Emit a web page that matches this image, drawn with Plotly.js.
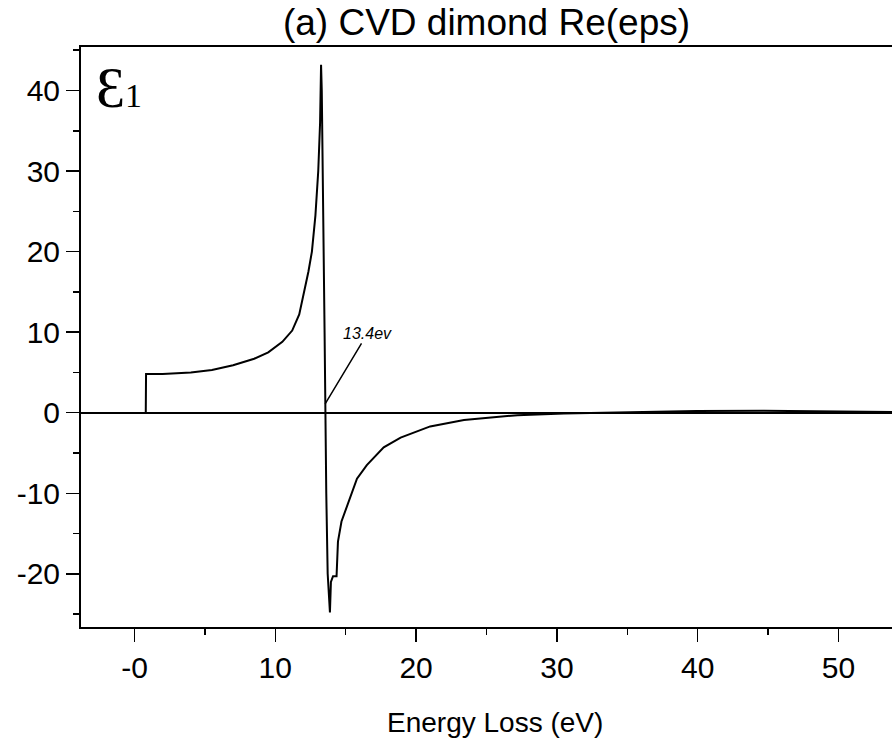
<!DOCTYPE html>
<html>
<head>
<meta charset="utf-8">
<script src="https://cdn.plot.ly/plotly-3.0.1.min.js"></script>
<style>html,body{margin:0;padding:0;background:#fff;}#chart{width:892px;height:748px;}</style>
</head>
<body>
<div id="chart"></div>
<script>
// Energy loss (eV) and Re(eps)
const energy = [0.8, 0.82, 2, 4, 5.5, 7, 8.5, 9.5, 10.5, 11.2, 11.7, 12.05, 12.35, 12.6, 12.85, 13.05, 13.18, 13.25, 13.3, 13.5, 13.55, 13.62, 13.72, 13.88, 13.95, 14.1, 14.35, 14.45, 14.7, 15.08, 15.8, 16.5, 17.7, 18.9, 21.0, 23.4, 27.2, 30.5, 35, 39.9, 44.7, 50.8, 54];
const eps1   = [0, 4.8, 4.8, 5.0, 5.3, 5.9, 6.7, 7.5, 8.8, 10.2, 12.2, 15, 17.5, 20, 24.5, 30, 36, 43.2, 40, 10, 0, -10, -20, -24.8, -21, -20.3, -20.3, -16, -13.5, -11.7, -8.2, -6.5, -4.3, -3.1, -1.7, -0.9, -0.3, -0.1, 0.05, 0.2, 0.25, 0.15, 0.1];

const xTicks = [0, 10, 20, 30, 40, 50];
const xTickLabels = ['-0', '10', '20', '30', '40', '50'];
const yTicks = [-20, -10, 0, 10, 20, 30, 40];
const yTickLabels = ['-20', '-10', '0', '10', '20', '30', '40'];

const titleText = '(a) CVD dimond Re(eps)';
const xTitleText = 'Energy Loss (eV)';
const panelLabel = 'Ɛ<span style="font-size:34px">1</span>';
const peakLabel = '13.4ev';
const peakPoint = [13.54, 1.1];
const peakLabelPos = [16.55, 9.85];

const sans = 'Liberation Sans, Arial, Helvetica, sans-serif';
const serif = 'Liberation Serif, DejaVu Serif, Times New Roman, serif';

const trace = {
  x: energy, y: eps1, type: 'scatter', mode: 'lines',
  line: {color: '#000', width: 2}, hoverinfo: 'skip'
};

const layout = {
  width: 892, height: 748,
  margin: {l: 81, r: 0, t: 47, b: 121},
  paper_bgcolor: '#fff', plot_bgcolor: '#fff',
  showlegend: false,
  title: {text: titleText, font: {family: sans, size: 37, color: '#000'}, x: 0.5, xref: 'paper', y: 0.97, yref: 'container', yanchor: 'middle'},
  xaxis: {
    range: [-3.8, 53.8], showgrid: false, zeroline: false,
    showline: true, linecolor: '#000', linewidth: 2, mirror: true,
    ticks: 'outside', ticklen: 13, tickwidth: 1.5, tickcolor: '#000',
    tickvals: xTicks, ticktext: xTickLabels,
    tickfont: {family: sans, size: 30, color: '#000'},
    minor: {dtick: 5, ticklen: 6, tickwidth: 1.5, tickcolor: '#000', ticks: 'outside'}
  },
  yaxis: {
    range: [-26.6, 45.4], showgrid: false,
    zeroline: true, zerolinecolor: '#000', zerolinewidth: 2,
    showline: true, linecolor: '#000', linewidth: 2,
    ticks: 'outside', ticklen: 13, tickwidth: 1.5, tickcolor: '#000',
    tickvals: yTicks, ticktext: yTickLabels,
    tickfont: {family: sans, size: 30, color: '#000'},
    minor: {dtick: 5, ticklen: 6, tickwidth: 1.5, tickcolor: '#000', ticks: 'outside'}
  },
  annotations: [
    {text: xTitleText, xref: 'paper', yref: 'paper', x: 0.5105, y: -0.165, yanchor: 'middle', xanchor: 'center', showarrow: false,
     font: {family: sans, size: 28, color: '#000'}},
    {text: panelLabel, xref: 'paper', yref: 'paper', x: 0.016, y: 0.99, xanchor: 'left', yanchor: 'top', showarrow: false,
     font: {family: serif, size: 58, color: '#000'}},
    {text: '<i>' + peakLabel + '</i>', x: peakPoint[0], y: peakPoint[1], xref: 'x', yref: 'y',
     ax: peakLabelPos[0], ay: peakLabelPos[1], axref: 'x', ayref: 'y',
     showarrow: true, arrowhead: 0, arrowwidth: 1.5, arrowcolor: '#000',
     font: {family: sans, size: 16, color: '#000'}}
  ]
};

Plotly.newPlot('chart', [trace], layout, {displayModeBar: false, staticPlot: true});
</script>
</body>
</html>
